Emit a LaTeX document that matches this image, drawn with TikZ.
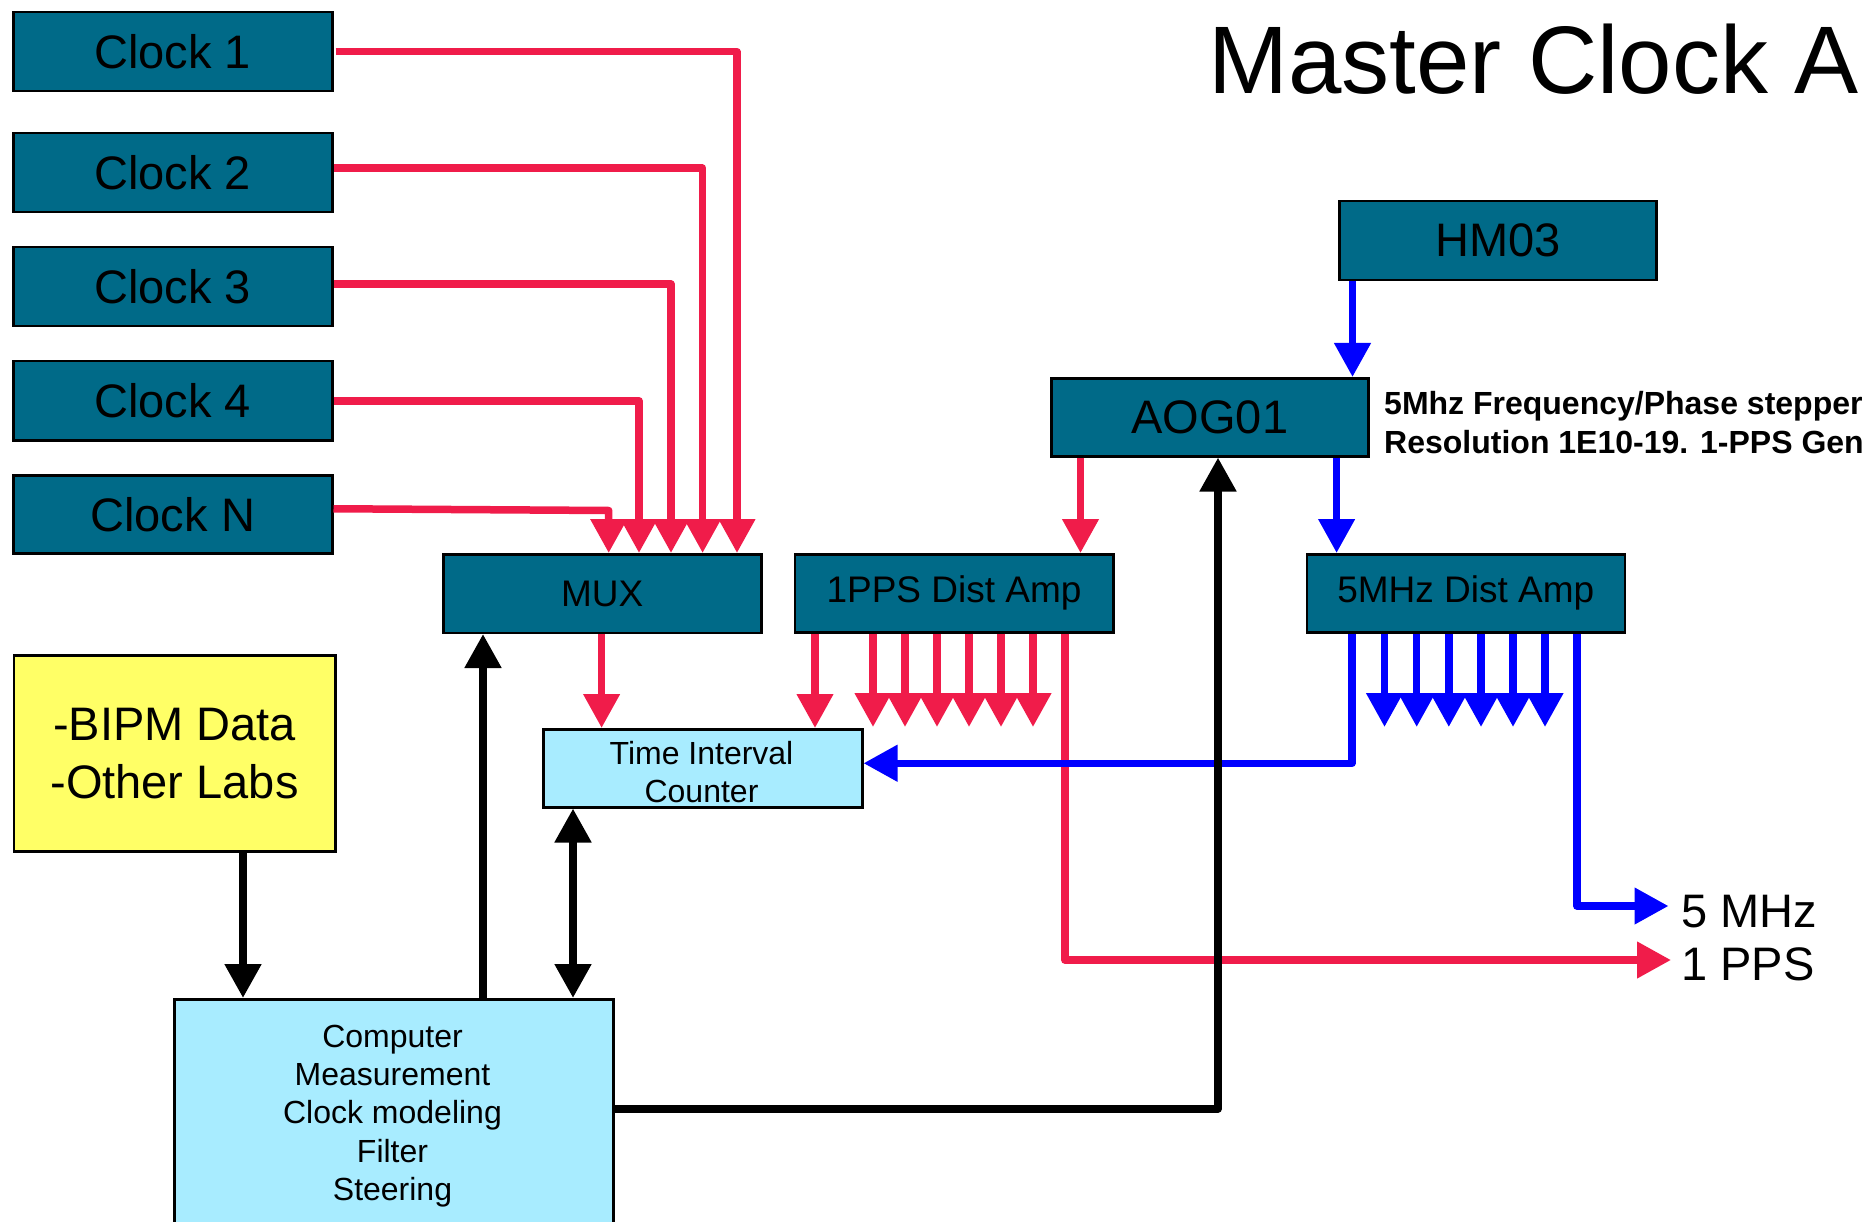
\documentclass[tikz,border=0pt]{standalone}
\usepackage{fontspec}
\setmainfont{Liberation Sans}
\usetikzlibrary{arrows.meta}
\definecolor{boxteal}{RGB}{0,106,136}
\definecolor{sigred}{RGB}{240,28,74}
\definecolor{sigblue}{RGB}{0,0,255}
\definecolor{noteyellow}{RGB}{255,255,102}
\definecolor{paleblue}{RGB}{168,236,255}
\begin{document}
\begin{tikzpicture}[x=1pt,y=-1pt,
  box/.style={draw=black,line width=2.5pt,inner sep=0pt,anchor=north west},
  tealbox/.style={box,fill=boxteal},
  bigtxt/.style={font=\fontsize{47}{58}\selectfont},
  midtxt/.style={font=\fontsize{37}{44}\selectfont},
  smalltxt/.style={font=\fontsize{32}{38.3}\selectfont},
  redline/.style={draw=sigred,line width=7.5pt,line join=round},
  blueline/.style={draw=sigblue,line width=7.5pt,line join=round},
  blackline/.style={draw=black,line width=8pt,line join=round},
  sigarrow/.style={-{Triangle[length=34pt,width=35pt]}},
  botharrow/.style={{Triangle[length=34pt,width=35pt]}-{Triangle[length=34pt,width=35pt]}}
]
\useasboundingbox (0,0) rectangle (1868,1222);
\clip (0,0) rectangle (1868,1222);

% title
\node[anchor=base west,inner sep=0pt,font=\fontsize{96}{110}\selectfont] (title) at (1208,94) {Master Clock A};

% clocks
\node[tealbox,bigtxt,minimum width=319pt,minimum height=79pt] (c1) at (12,11) {Clock 1};
\node[tealbox,bigtxt,minimum width=319pt,minimum height=79pt] (c2) at (12,132) {Clock 2};
\node[tealbox,bigtxt,minimum width=319pt,minimum height=79pt] (c3) at (12,246) {Clock 3};
\node[tealbox,bigtxt,minimum width=319pt,minimum height=79pt] (c4) at (12,360) {Clock 4};
\node[tealbox,bigtxt,minimum width=319pt,minimum height=78pt] (cN) at (12,474) {Clock N};

% other boxes
\node[tealbox,bigtxt,minimum width=317pt,minimum height=79pt] (hm) at (1338,200) {HM03};
\node[tealbox,bigtxt,minimum width=317pt,minimum height=78pt] (aog) at (1050,377) {AOG01};
\node[tealbox,midtxt,minimum width=318pt,minimum height=78.5pt] (mux) at (442,553) {MUX};
\node[tealbox,midtxt,minimum width=318.5pt,minimum height=78pt] (pps) at (793.5,553) {1PPS Dist Amp};
\node[tealbox,midtxt,minimum width=318pt,minimum height=78pt] (mhz) at (1305.5,553) {5MHz Dist Amp};
\node[box,fill=paleblue,minimum width=319pt,minimum height=78pt] (tic) at (542,728) {};
\node[smalltxt,align=center,inner sep=0pt] (tict) at (701.5,772) {Time Interval\\Counter};
\node[box,fill=noteyellow,bigtxt,align=center,minimum width=321.5pt,minimum height=196pt] (bipm) at (12.5,654) {-BIPM Data\\-Other Labs};
\node[box,fill=paleblue,minimum width=439pt,minimum height=260pt] (comp) at (173,998) {};
\node[smalltxt,align=center,inner sep=0pt] (compt) at (392.5,1116) {Computer\\Measurement\\Clock modeling\\Filter\\Steering};

% annotation
\node[anchor=west,align=left,inner sep=0pt,font=\bfseries\fontsize{32}{39}\selectfont] (note) at (1384,423) {5Mhz Frequency/Phase stepper\\Resolution 1E10-19. 1-PPS Gen};

% outputs
\node[anchor=base west,inner sep=0pt,bigtxt] (o5) at (1681,927.5) {5 MHz};
\node[anchor=base west,inner sep=0pt,bigtxt] (o1) at (1681,980) {1 PPS};
\coordinate (t5) at (1668.5,906);
\coordinate (t1) at (1671,960);
\coordinate (nbend) at (608.7,510.5);

% red connectors
\draw[redline,sigarrow] ([xshift=2pt]c1.east) -| (737,0 |- mux.north);
\draw[redline,sigarrow] ([yshift=4.5pt]c2.east) -| (702.6,0 |- mux.north);
\draw[redline,sigarrow] ([yshift=2.5pt]c3.east) -| (671,0 |- mux.north);
\draw[redline,sigarrow] (c4.east) -| (639,0 |- mux.north);
\draw[redline,sigarrow] ([yshift=5.5pt]cN.east) -- (nbend) -- (608.7,0 |- mux.north);
\draw[redline,sigarrow] (601.6,0 |- mux.south) -- (601.6,0 |- tic.north);
\draw[redline,sigarrow] (1080.5,0 |- aog.south) -- (1080.5,0 |- pps.north);
\draw[redline,sigarrow] (815,0 |- pps.south) -- (815,0 |- tic.north);
\foreach \x [count=\i] in {873,905,937,969,1001,1033} {
  \coordinate (pe\i) at (\x,727);
  \draw[redline,sigarrow] (\x,0 |- pps.south) -- (pe\i);
}
\draw[redline,sigarrow] (1065,0 |- pps.south) |- (t1);

% blue connectors
\draw[blueline,sigarrow] (1352.5,0 |- hm.south) -- (1352.5,0 |- aog.north);
\draw[blueline,sigarrow] (1336.6,0 |- aog.south) -- (1336.6,0 |- mhz.north);
\draw[blueline,sigarrow] (1352,0 |- mhz.south) |- ([yshift=5pt]tic.east);
\foreach \x [count=\i] in {1384.5,1416.7,1448.8,1481,1513,1545} {
  \coordinate (be\i) at (\x,727);
  \draw[blueline,sigarrow] (\x,0 |- mhz.south) -- (be\i);
}
\draw[blueline,sigarrow] (1577,0 |- mhz.south) |- (t5);

% black connectors
\draw[blackline,sigarrow] (243,0 |- bipm.south) -- (243,0 |- comp.north);
\draw[blackline,sigarrow] (483,0 |- comp.north) -- (483,0 |- mux.south);
\draw[blackline,botharrow] (573,0 |- comp.north) -- (573,0 |- tic.south);
\draw[blackline,sigarrow] (comp.north east |- 0,1108.7) -| (1218,0 |- aog.south);
\end{tikzpicture}
\end{document}
